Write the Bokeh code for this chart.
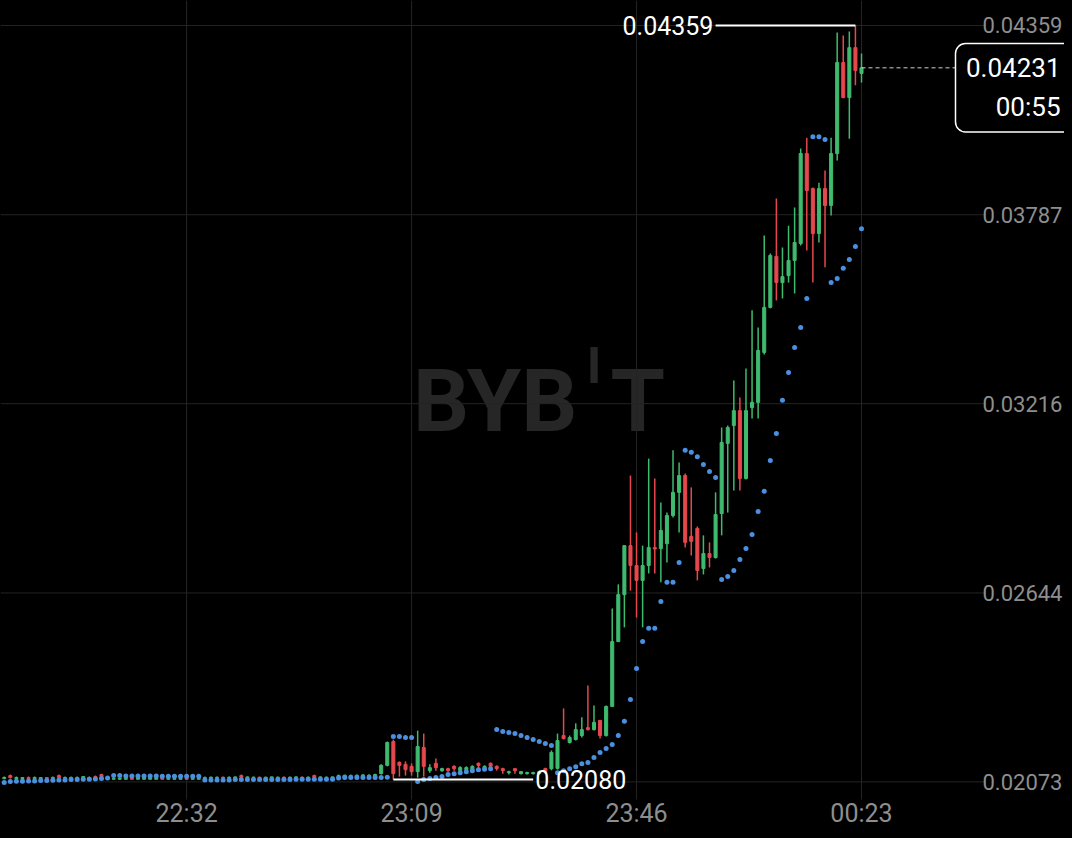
import pandas as pd
from bokeh.plotting import figure
from bokeh.models import Label, BoxAnnotation, Range1d, ColumnDataSource
from bokeh.embed import file_html
from bokeh.resources import INLINE

# ---------------- data (1-minute candles, 22:02 -> 00:23) ----------------
start_time = "2024-05-01 22:02"

opens = [
    0.02083, 0.02092, 0.02083, 0.02083, 0.02086, 0.02083, 0.02083, 0.02086, 0.02083, 0.02092,
    0.02083, 0.02083, 0.02083, 0.02086, 0.02083, 0.02089, 0.02095,
    0.02083, 0.02081, 0.02081, 0.02081, 0.02084, 0.02081, 0.02081, 0.02081, 0.02081, 0.02084,
    0.02081, 0.02081, 0.02081, 0.02084, 0.02081, 0.02081,
    0.02083, 0.02084, 0.02086, 0.02087, 0.02085, 0.02085, 0.02092, 0.02086, 0.02086, 0.02087,
    0.02085, 0.02086, 0.02086, 0.02087, 0.02085, 0.02086, 0.02087, 0.02085, 0.02092, 0.02086,
    0.02086, 0.02085,
    0.02087, 0.02088, 0.02089, 0.02088, 0.02089, 0.02089, 0.02090,
    0.02098, 0.02123, 0.02195, 0.02132, 0.02126, 0.02120, 0.02104, 0.02177, 0.02107, 0.02129,
    0.02107, 0.02113, 0.02120, 0.02107, 0.02110, 0.02110, 0.02129, 0.02113, 0.02129, 0.02120,
    0.02113, 0.02101, 0.02113, 0.02098, 0.02098, 0.02098, 0.02098, 0.02113, 0.02113, 0.02114,
    0.02213, 0.02192, 0.02201, 0.02213, 0.02237, 0.02231, 0.02259, 0.02213, 0.02301, 0.02497,
    0.02639, 0.02787, 0.02727, 0.02682, 0.02727, 0.02781, 0.02778, 0.02793, 0.02878, 0.02948,
    0.02999, 0.02815, 0.02839, 0.02718, 0.02763, 0.02751, 0.02884, 0.03096, 0.03150, 0.03195,
    0.02990, 0.03204, 0.03220, 0.03371, 0.03507, 0.03661, 0.03582, 0.03603, 0.03649, 0.03700,
    0.03972, 0.03866, 0.03730, 0.03866, 0.03815, 0.03972, 0.04247, 0.04141, 0.04292, 0.04214,
]
highs = [
    0.02089, 0.02095, 0.02089, 0.02086, 0.02089, 0.02089, 0.02086, 0.02086, 0.02089, 0.02095,
    0.02089, 0.02089, 0.02089, 0.02089, 0.02089, 0.02092, 0.02098,
    0.02089, 0.02086, 0.02086, 0.02086, 0.02086, 0.02086, 0.02086, 0.02086, 0.02086, 0.02086,
    0.02086, 0.02086, 0.02086, 0.02086, 0.02086, 0.02086,
    0.02089, 0.02089, 0.02089, 0.02089, 0.02089, 0.02089, 0.02095, 0.02089, 0.02089, 0.02089,
    0.02089, 0.02089, 0.02089, 0.02089, 0.02089, 0.02089, 0.02089, 0.02089, 0.02095, 0.02089,
    0.02089, 0.02089,
    0.02095, 0.02095, 0.02095, 0.02095, 0.02096, 0.02096, 0.02098,
    0.02126, 0.02195, 0.02201, 0.02135, 0.02135, 0.02129, 0.02228, 0.02219, 0.02126, 0.02144,
    0.02116, 0.02116, 0.02123, 0.02120, 0.02120, 0.02123, 0.02132, 0.02123, 0.02132, 0.02123,
    0.02116, 0.02107, 0.02113, 0.02105, 0.02104, 0.02104, 0.02107, 0.02116, 0.02168, 0.02219,
    0.02295, 0.02213, 0.02250, 0.02268, 0.02364, 0.02304, 0.02260, 0.02304, 0.02597, 0.02670,
    0.02788, 0.02999, 0.02827, 0.02787, 0.03050, 0.02990, 0.02917, 0.02887, 0.03075, 0.03038,
    0.03005, 0.02963, 0.02845, 0.02818, 0.02797, 0.02948, 0.03144, 0.03150, 0.03286, 0.03235,
    0.03322, 0.03498, 0.03446, 0.03724, 0.03670, 0.03836, 0.03688, 0.03754, 0.03809, 0.03987,
    0.04020, 0.03869, 0.03884, 0.03921, 0.04020, 0.04338, 0.04329, 0.04341, 0.04359, 0.04274,
]
lows = [
    0.02081, 0.02083, 0.02081, 0.02081, 0.02081, 0.02083, 0.02081, 0.02081, 0.02083, 0.02083,
    0.02081, 0.02083, 0.02081, 0.02083, 0.02083, 0.02083, 0.02086,
    0.02081, 0.02081, 0.02081, 0.02081, 0.02081, 0.02081, 0.02081, 0.02081, 0.02081, 0.02081,
    0.02081, 0.02081, 0.02081, 0.02081, 0.02081, 0.02081,
    0.02083, 0.02083, 0.02084, 0.02084, 0.02084, 0.02084, 0.02084, 0.02084, 0.02084, 0.02084,
    0.02084, 0.02084, 0.02084, 0.02084, 0.02084, 0.02084, 0.02084, 0.02084, 0.02084, 0.02084,
    0.02084, 0.02084,
    0.02086, 0.02087, 0.02087, 0.02087, 0.02087, 0.02088, 0.02089,
    0.02095, 0.02120, 0.02080, 0.02089, 0.02092, 0.02092, 0.02086, 0.02089, 0.02101, 0.02107,
    0.02104, 0.02104, 0.02107, 0.02104, 0.02107, 0.02107, 0.02113, 0.02110, 0.02113, 0.02107,
    0.02098, 0.02095, 0.02098, 0.02095, 0.02095, 0.02095, 0.02095, 0.02098, 0.02108, 0.02110,
    0.02201, 0.02189, 0.02198, 0.02207, 0.02228, 0.02228, 0.02204, 0.02210, 0.02300, 0.02496,
    0.02540, 0.02651, 0.02570, 0.02540, 0.02703, 0.02703, 0.02676, 0.02736, 0.02872, 0.02827,
    0.02781, 0.02757, 0.02682, 0.02700, 0.02721, 0.02748, 0.02818, 0.02887, 0.02954, 0.02954,
    0.02987, 0.03171, 0.03171, 0.03365, 0.03504, 0.03528, 0.03534, 0.03582, 0.03549, 0.03694,
    0.03679, 0.03582, 0.03703, 0.03628, 0.03785, 0.03951, 0.04139, 0.04017, 0.04178, 0.04187,
]
closes = [
    0.02086, 0.02086, 0.02086, 0.02086, 0.02083, 0.02086, 0.02086, 0.02083, 0.02086, 0.02086,
    0.02086, 0.02086, 0.02086, 0.02089, 0.02086, 0.02086, 0.02089,
    0.02086, 0.02083, 0.02084, 0.02084, 0.02081, 0.02084, 0.02084, 0.02084, 0.02084, 0.02081,
    0.02084, 0.02083, 0.02084, 0.02081, 0.02083, 0.02083,
    0.02086, 0.02087, 0.02087, 0.02085, 0.02087, 0.02088, 0.02087, 0.02088, 0.02087, 0.02085,
    0.02087, 0.02088, 0.02087, 0.02086, 0.02087, 0.02088, 0.02085, 0.02087, 0.02087, 0.02088,
    0.02087, 0.02088,
    0.02092, 0.02093, 0.02092, 0.02093, 0.02094, 0.02093, 0.02095,
    0.02123, 0.02192, 0.02098, 0.02123, 0.02110, 0.02104, 0.02180, 0.02120, 0.02116, 0.02116,
    0.02113, 0.02107, 0.02113, 0.02116, 0.02116, 0.02120, 0.02123, 0.02120, 0.02120, 0.02113,
    0.02107, 0.02104, 0.02107, 0.02104, 0.02101, 0.02101, 0.02104, 0.02104, 0.02162, 0.02198,
    0.02204, 0.02207, 0.02231, 0.02231, 0.02231, 0.02253, 0.02213, 0.02301, 0.02497, 0.02639,
    0.02787, 0.02727, 0.02682, 0.02727, 0.02781, 0.02777, 0.02833, 0.02878, 0.02948, 0.02999,
    0.02797, 0.02800, 0.02712, 0.02763, 0.02751, 0.02881, 0.03099, 0.03144, 0.03195, 0.02990,
    0.03195, 0.03220, 0.03377, 0.03507, 0.03664, 0.03582, 0.03600, 0.03649, 0.03703, 0.03972,
    0.03860, 0.03730, 0.03866, 0.03815, 0.03972, 0.04247, 0.04141, 0.04292, 0.04223, 0.04231,
]
# parabolic SAR dots
sar = [
    0.02071, 0.02074, 0.02075, 0.02075, 0.02076, 0.02076, 0.02077, 0.02077, 0.02078, 0.02079,
    0.02079, 0.02080, 0.02080, 0.02081, 0.02081, 0.02082, 0.02083,
    0.02085, 0.02092, 0.02092, 0.02091, 0.02091, 0.02091, 0.02091, 0.02091, 0.02091, 0.02090,
    0.02090, 0.02090, 0.02090, 0.02090, 0.02090, 0.02090,
    0.02079, 0.02079, 0.02079, 0.02079, 0.02079, 0.02080, 0.02080, 0.02080, 0.02080, 0.02080,
    0.02080, 0.02080, 0.02080, 0.02080, 0.02080, 0.02081, 0.02081, 0.02081, 0.02081, 0.02081,
    0.02081, 0.02081,
    0.02085, 0.02086, 0.02086, 0.02086, 0.02086, 0.02086, 0.02086,
    0.02086, 0.02087, 0.02210, 0.02210, 0.02207, 0.02207, 0.02074, 0.02080, 0.02083, 0.02086,
    0.02089, 0.02095, 0.02098, 0.02101, 0.02104, 0.02107, 0.02110, 0.02111, 0.02113, 0.02231,
    0.02225, 0.02222, 0.02219, 0.02213, 0.02207, 0.02201, 0.02195, 0.02189, 0.02183, 0.02101,
    0.02107, 0.02113, 0.02119, 0.02128, 0.02132, 0.02147, 0.02162, 0.02174, 0.02186, 0.02213,
    0.02256, 0.02322, 0.02416, 0.02497, 0.02537, 0.02537, 0.02618, 0.02676, 0.02676, 0.02736,
    0.03075, 0.03069, 0.03056, 0.03032, 0.03011, 0.02993, 0.02685, 0.02694, 0.02712, 0.02745,
    0.02778, 0.02821, 0.02890, 0.02951, 0.03044, 0.03126, 0.03226, 0.03310, 0.03386, 0.03446,
    0.03534, 0.04023, 0.04023, 0.04014, 0.03582, 0.03594, 0.03625, 0.03652, 0.03691, 0.03745,
]
x_tick_labels = ["22:32", "23:09", "23:46", "00:23"]
y_ticks = [0.02073, 0.02644, 0.03216, 0.03787, 0.04359]
countdown_text = "00:55"
watermark_parts = ["BYB", "I", "T"]

assert len(opens) == len(highs) == len(lows) == len(closes) == len(sar)

# ---------------- layout helpers (canvas px -> data) ----------------
n = len(opens)
times = pd.date_range(start_time, periods=n, freq="min")
MIN = 60_000.0
t_ms = [t.value / 1e6 for t in times]

W, H = 1064, 830
LAST_PX = 861.0        # screen x of the newest candle
PX_PER_MIN = 6.08
BASE_PY = 781.4        # screen y of the lowest tick value
PX_PER_UNIT = 33090.0


def sx(px):
    return t_ms[-1] + (px - LAST_PX) / PX_PER_MIN * MIN


def sy(py):
    return y_ticks[0] + (BASE_PY - py) / PX_PER_UNIT


GREEN = "#3fbb6f"
RED = "#e5484d"
BLUE = "#4a8fe0"
GRID = "#242424"
AXIS_TXT = "#8e8e8e"
FONT = "Roboto"

src = ColumnDataSource(dict(
    t=t_ms, high=highs, low=lows,
    top=[max(o, c) for o, c in zip(opens, closes)],
    bottom=[min(o, c) for o, c in zip(opens, closes)],
    color=[GREEN if c >= o else RED for o, c in zip(opens, closes)],
))

p = figure(width=W, height=H, x_axis_location=None, y_axis_location=None,
           x_range=Range1d(sx(0), sx(W)), y_range=Range1d(sy(H), sy(0)),
           output_backend="svg", toolbar_location=None, min_border=0)
p.styles = {"box-shadow": "0 0 0 8px #000000", "background-color": "#000000"}
p.background_fill_color = "black"
p.border_fill_color = None
p.outline_line_color = None
p.grid.grid_line_color = None

# watermark
for txt, px, align, size, py in [
    (watermark_parts[0], 577, "right", "88px", 400),
    (watermark_parts[1], 593.5, "center", "50px", 365),
    (watermark_parts[2], 610, "left", "88px", 400),
]:
    p.add_layout(Label(x=sx(px), y=sy(py), text=txt, text_align=align,
                       text_baseline="middle", text_font=FONT, text_font_style="bold",
                       text_font_size=size, text_color="#262626", level="underlay"))

# grid lines (stop short of the price scale / time scale)
tick_ms = [t_ms[i] for i, t in enumerate(times) if t.strftime("%H:%M") in x_tick_labels]
tick_txt = [t.strftime("%H:%M") for t in times if t.strftime("%H:%M") in x_tick_labels]
p.segment(x0=[sx(0)] * len(y_ticks), x1=[sx(985)] * len(y_ticks), y0=y_ticks, y1=y_ticks,
          line_color=GRID, line_width=1)
p.segment(x0=tick_ms, x1=tick_ms, y0=[sy(799)] * len(tick_ms), y1=[sy(0)] * len(tick_ms),
          line_color=GRID, line_width=1)

# price scale labels and time labels
for v in y_ticks:
    p.add_layout(Label(x=sx(982), y=v, text=f"{v:.5f}", text_align="left",
                       text_baseline="middle", text_color=AXIS_TXT, text_font=FONT,
                       text_font_size="22px"))
for tm, lab in zip(tick_ms, tick_txt):
    p.add_layout(Label(x=tm, y=sy(813), text=lab, text_align="center",
                       text_baseline="middle", text_color=AXIS_TXT, text_font=FONT,
                       text_font_size="25px"))

# candles
p.segment(x0="t", y0="high", x1="t", y1="low", line_color="color", line_width=1.5, source=src)
p.vbar(x="t", width=0.5 * MIN, top="top", bottom="bottom", fill_color="color",
       line_color="color", line_width=1, source=src)

# SAR
p.scatter(x=t_ms, y=sar, size=5, fill_color=BLUE, line_color=None)

# max / min markers
imax = max(range(n), key=lambda i: highs[i])
imin = min(range(n), key=lambda i: lows[i])
p.segment(x0=[t_ms[imax] - 23 * MIN], x1=[t_ms[imax]], y0=[highs[imax]], y1=[highs[imax]],
          line_color="white", line_width=2)
p.segment(x0=[t_ms[imin]], x1=[t_ms[imin] + 23 * MIN], y0=[lows[imin]], y1=[lows[imin]],
          line_color="white", line_width=2)
p.add_layout(Label(x=t_ms[imax], y=highs[imax], x_offset=-142, text=f"{highs[imax]:.5f}",
                   text_align="right", text_baseline="middle", text_color="white",
                   text_font=FONT, text_font_size="25px"))
p.add_layout(Label(x=t_ms[imin], y=lows[imin], x_offset=142, text=f"{lows[imin]:.5f}",
                   text_align="left", text_baseline="middle", text_color="white",
                   text_font=FONT, text_font_size="25px"))

# last price line + box
last = closes[-1]
p.segment(x0=[t_ms[-1]], x1=[sx(955)], y0=[last], y1=[last],
          line_color="#d0d0d0", line_width=1, line_dash="4 3")
p.add_layout(BoxAnnotation(left=sx(955), right=sx(1100), top=sy(43), bottom=sy(131.5),
                           fill_color="black", fill_alpha=1.0, line_color="white",
                           line_alpha=1.0, line_width=1.5, border_radius=10, level="overlay"))
p.add_layout(Label(x=t_ms[-1], y=last, x_offset=199, text=f"{last:.5f}", text_align="right",
                   text_baseline="middle", text_color="white", text_font=FONT,
                   text_font_size="26px", level="overlay"))
p.add_layout(Label(x=t_ms[-1], y=sy(106), x_offset=199, text=countdown_text,
                   text_align="right", text_baseline="middle", text_color="white",
                   text_font=FONT, text_font_size="26px", level="overlay"))

open("out.html", "w").write(file_html(p, INLINE))
